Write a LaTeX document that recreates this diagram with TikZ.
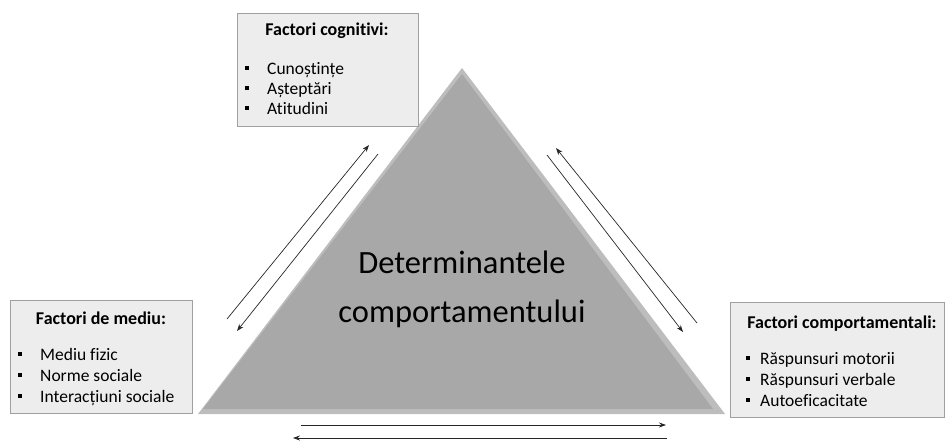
\documentclass[tikz,border=0pt]{standalone}
\usepackage{fontspec}
\setmainfont{Carlito}[Ligatures=NoCommon]
\usetikzlibrary{arrows.meta}
\definecolor{boxfill}{HTML}{EDEDED}
\definecolor{boxline}{HTML}{A0A0A0}
\definecolor{trifill}{HTML}{A8A8A8}
\definecolor{triedge}{HTML}{BDBDBD}
\definecolor{arrowline}{HTML}{262626}
\tikzset{
  factorbox/.style={draw=boxline, fill=boxfill, line width=0.8pt},
  boxtitle/.style={font=\fontsize{18}{20}\selectfont\bfseries, anchor=base, inner sep=0pt},
  boxitem/.style={font=\fontsize{17.5}{19}\selectfont, anchor=base west, inner sep=0pt},
  bulletmark/.style={fill=black, inner sep=0pt, minimum size=4pt, rectangle},
  flow/.style={draw=arrowline, line width=0.7pt, -{Stealth[length=7pt,width=5pt]}},
  maintext/.style={font=\fontsize{32.5}{36}\selectfont, anchor=base, inner sep=0pt}
}
\begin{document}
\begin{tikzpicture}[x=1pt,y=-1pt]
\useasboundingbox (0,0) rectangle (945,440);

% central triangle with a light bevel
\coordinate (apex) at (462,68);
\coordinate (bl) at (198,414);
\coordinate (br) at (725,414);
\fill[triedge] (apex) -- (br) -- (bl) -- cycle;
\fill[trifill] (462,74) -- (713,409) -- (203,409) -- cycle;
\node[maintext] (det1) at (462,273) {Determinantele};
\node[maintext] (det2) at (462,322) {comportamentului};

% cognitive factors
\node[factorbox, minimum width=181pt, minimum height=113pt, anchor=north west, inner sep=0pt] (cog) at (237,13) {};
\node[boxtitle] (cogt) at (327,35) {Factori cognitivi:};
\node[bulletmark] (cb1) at (247,68) {};
\node[bulletmark] (cb2) at (247,88) {};
\node[bulletmark] (cb3) at (247,108) {};
\node[boxitem] (ci1) at (267,74) {Cunoștințe};
\node[boxitem] (ci2) at (267,94) {Așteptări};
\node[boxitem] (ci3) at (267,114) {Atitudini};

% environmental factors
\node[factorbox, minimum width=182pt, minimum height=113pt, anchor=north west, inner sep=0pt] (env) at (10,300) {};
\node[boxtitle] (envt) at (101,324) {Factori de mediu:};
\node[bulletmark] (eb1) at (20,354) {};
\node[bulletmark] (eb2) at (20,375) {};
\node[bulletmark] (eb3) at (20,396) {};
\node[boxitem] (ei1) at (40,360) {Mediu fizic};
\node[boxitem] (ei2) at (40,381) {Norme sociale};
\node[boxitem] (ei3) at (40,402) {Interacțiuni sociale};

% behavioural factors
\node[factorbox, minimum width=214pt, minimum height=115pt, anchor=north west, inner sep=0pt] (beh) at (730,302) {};
\node[boxtitle] (beht) at (842,328) {Factori comportamentali:};
\node[bulletmark] (bb1) at (748,358) {};
\node[bulletmark] (bb2) at (748,379) {};
\node[bulletmark] (bb3) at (748,400) {};
\node[boxitem] (bi1) at (760,364) {Răspunsuri motorii};
\node[boxitem] (bi2) at (760,385) {Răspunsuri verbale};
\node[boxitem] (bi3) at (760,406) {Autoeficacitate};

% reciprocal influences
\coordinate (l1s) at (227,319); \coordinate (l1e) at (369,145);
\coordinate (l2s) at (378,154); \coordinate (l2e) at (237,331);
\coordinate (r1s) at (697,323); \coordinate (r1e) at (556,148);
\coordinate (r2s) at (547,155); \coordinate (r2e) at (683,332);
\coordinate (b1s) at (301,425); \coordinate (b1e) at (666,425);
\coordinate (b2s) at (667,438); \coordinate (b2e) at (293,438);
\draw[flow] (l1s) -- (l1e);
\draw[flow] (l2s) -- (l2e);
\draw[flow] (r1s) -- (r1e);
\draw[flow] (r2s) -- (r2e);
\draw[flow] (b1s) -- (b1e);
\draw[flow] (b2s) -- (b2e);
\end{tikzpicture}
\end{document}
